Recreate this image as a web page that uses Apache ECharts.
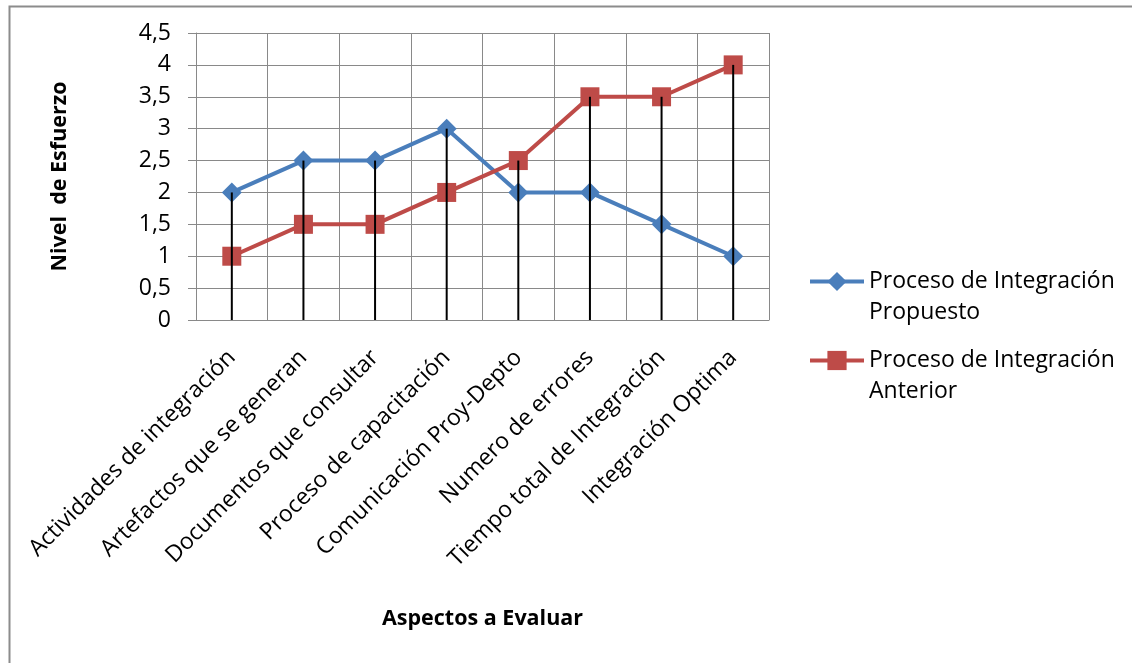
<!DOCTYPE html>
<html>
<head>
<meta charset="utf-8">
<script src="https://cdn.jsdelivr.net/npm/echarts@6/dist/echarts.min.js"></script>
<style>
  html, body { margin: 0; padding: 0; background: #ffffff; }
  #chart { width: 1132px; height: 663px; }
</style>
</head>
<body>
<div id="chart"></div>
<script>
// Aspects evaluated (x axis)
const categories = [
  'Actividades de integración',
  'Artefactos que se generan',
  'Documentos que consultar',
  'Proceso de capacitación',
  'Comunicación Proy-Depto',
  'Numero de errores',
  'Tiempo total de Integración',
  'Integración Optima'
];

// Effort level per aspect
const propuesto = [2, 2.5, 2.5, 3, 2, 2, 1.5, 1];
const anterior = [1, 1.5, 1.5, 2, 2.5, 3.5, 3.5, 4];

const seriesNames = ['Proceso de Integración Propuesto', 'Proceso de Integración Anterior'];
// Legend text wraps onto two lines; the leading blank line keeps the first
// line level with the legend symbol
const legendLabels = {
  'Proceso de Integración Propuesto': '\nProceso de Integración\nPropuesto',
  'Proceso de Integración Anterior': '\nProceso de Integración\nAnterior'
};

// Drop lines run from the higher of the two points down to the axis
const dropTops = propuesto.map((v, i) => Math.max(v, anterior[i]));

const FONT = 'Open Sans';
const GRID = '#898989';

const chart = echarts.init(document.getElementById('chart'), null, { renderer: 'canvas' });

chart.setOption({
  animation: false,
  backgroundColor: '#ffffff',
  textStyle: { fontFamily: FONT, color: '#000000' },
  graphic: [{
    type: 'rect',
    left: 7, top: 4,
    shape: { width: 1400, height: 900 },
    style: { fill: 'none', stroke: '#8c8c8c', lineWidth: 2 },
    silent: true,
    z: -10
  }],
  grid: { left: 196, right: 363, top: 33, bottom: 343, containLabel: false },
  legend: {
    data: seriesNames,
    orient: 'vertical',
    left: 808,
    top: 235,
    padding: 0,
    itemGap: -14,
    itemWidth: 54,
    itemHeight: 24,
    lineStyle: { width: 4 },
    formatter: name => legendLabels[name],
    textStyle: {
      fontFamily: FONT, fontSize: 23, color: '#000000',
      lineHeight: 31
    }
  },
  xAxis: {
    type: 'category',
    data: categories,
    boundaryGap: true,
    name: 'Aspectos a Evaluar',
    nameLocation: 'middle',
    nameGap: 288,
    nameTextStyle: { fontFamily: FONT, fontSize: 21.5, fontWeight: 'bold', color: '#000000' },
    axisLine: { show: true, lineStyle: { color: GRID, width: 1 } },
    axisTick: { show: false },
    axisLabel: {
      interval: 0, rotate: 45, margin: 34,
      fontFamily: FONT, fontSize: 23, color: '#000000'
    },
    splitLine: { show: true, interval: 0, lineStyle: { color: GRID, width: 1 } }
  },
  yAxis: {
    type: 'value',
    min: 0, max: 4.5, interval: 0.5,
    name: 'Nivel  de Esfuerzo',
    nameLocation: 'middle',
    nameGap: 125,
    nameTextStyle: { fontFamily: FONT, fontSize: 21.5, fontWeight: 'bold', color: '#000000' },
    axisLine: { show: true, lineStyle: { color: GRID, width: 1 } },
    axisTick: { show: true, length: 8, lineStyle: { color: GRID, width: 1 } },
    axisLabel: {
      margin: 25, fontFamily: FONT, fontSize: 23, color: '#000000',
      formatter: v => String(v).replace('.', ',')
    },
    splitLine: { show: true, lineStyle: { color: GRID, width: 1 } }
  },
  series: [
    {
      name: seriesNames[0],
      type: 'line',
      data: propuesto,
      symbol: 'diamond',
      symbolSize: 20,
      color: '#4a7ebb',
      lineStyle: { color: '#4a7ebb', width: 4 },
      itemStyle: { color: '#4a7ebb' },
      z: 3
    },
    {
      name: seriesNames[1],
      type: 'line',
      data: anterior,
      symbol: 'rect',
      symbolSize: 19,
      color: '#be4b48',
      lineStyle: { color: '#be4b48', width: 4 },
      itemStyle: { color: '#be4b48' },
      z: 3
    },
    {
      name: 'drop',
      type: 'bar',
      data: dropTops,
      barWidth: 2,
      barGap: '-100%',
      itemStyle: { color: '#000000' },
      silent: true,
      z: 5
    }
  ]
});
</script>
</body>
</html>
